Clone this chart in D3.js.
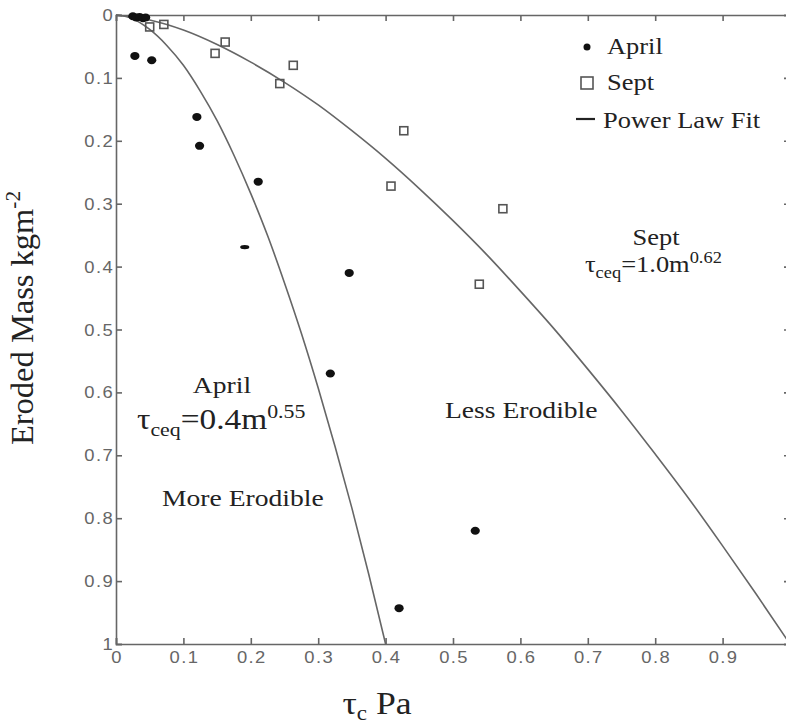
<!DOCTYPE html>
<html><head><meta charset="utf-8">
<script src="https://cdn.jsdelivr.net/npm/d3@7"></script>
<style>
html,body{margin:0;padding:0;background:#fff;}
svg{display:block;}
</style></head>
<body>
<svg id="chart" width="786" height="728"></svg>
<script>
// ---- data ----
const aprilTau  = [0.025,0.030,0.035,0.040,0.044,0.028,0.053,0.120,0.124,0.211,0.191,0.346,0.318,0.533,0.420];
const aprilMass = [0.002,0.004,0.003,0.005,0.004,0.065,0.072,0.162,0.208,0.265,0.369,0.410,0.570,0.820,0.943];
const septTau   = [0.050,0.071,0.147,0.162,0.263,0.243,0.427,0.408,0.574,0.539];
const septMass  = [0.019,0.015,0.061,0.043,0.080,0.109,0.184,0.272,0.308,0.428];
const aprilFitTau  = [0,0.02,0.05,0.075,0.1,0.125,0.15,0.175,0.2,0.225,0.25,0.275,0.3,0.325,0.35,0.375,0.4];
const aprilFitMass = [0,0.004,0.023,0.048,0.080,0.121,0.168,0.223,0.284,0.351,0.426,0.506,0.593,0.686,0.784,0.889,1.0];
const septFitTau  = [0,0.05,0.1,0.15,0.2,0.25,0.3,0.35,0.4,0.45,0.5,0.55,0.6,0.65,0.7,0.75,0.8,0.85,0.9,0.95,1.0];
const septFitMass = [0,0.008,0.024,0.047,0.075,0.107,0.143,0.184,0.228,0.276,0.327,0.381,0.439,0.499,0.563,0.629,0.698,0.769,0.844,0.921,1.0];
const xTickValues = [0,0.1,0.2,0.3,0.4,0.5,0.6,0.7,0.8,0.9];
const xTickLabels = ["0","0.1","0.2","0.3","0.4","0.5","0.6","0.7","0.8","0.9"];
const yTickValues = [0,0.1,0.2,0.3,0.4,0.5,0.6,0.7,0.8,0.9,1];
const yTickLabels = ["0","0.1","0.2","0.3","0.4","0.5","0.6","0.7","0.8","0.9","1"];
const legendLabels = ["April","Sept","Power Law Fit"];

// ---- layout ----
const L = 116, R = 790, T = 15, B = 644;
const SX = 1.15; // horizontal stretch of the original picture
const svg = d3.select("#chart");
const x = d3.scaleLinear().domain([0,1]).range([L,R]);
const y = d3.scaleLinear().domain([0,1]).range([T,B]);
const axisCol = "#666";
const serif = "'Liberation Serif','Times New Roman',serif";
const sans = "'Liberation Sans',Arial,sans-serif";

svg.append("defs").append("clipPath").attr("id","plotclip")
  .append("rect").attr("x",L).attr("y",T-2).attr("width",R-L).attr("height",B-T+2);

// axes with inward ticks
const tickLen = 6;
const gTop = svg.append("g").attr("transform",`translate(0,${T})`)
  .call(d3.axisBottom(x).tickValues(xTickValues).tickSize(tickLen).tickFormat(""));
const gBot = svg.append("g").attr("transform",`translate(0,${B})`)
  .call(d3.axisTop(x).tickValues(xTickValues).tickSize(tickLen).tickFormat(""));
const gLeft = svg.append("g").attr("transform",`translate(${L},0)`)
  .call(d3.axisRight(y).tickValues(yTickValues).tickSize(tickLen).tickFormat(""));
const gRight = svg.append("g").attr("transform",`translate(${R},0)`)
  .call(d3.axisLeft(y).tickValues(yTickValues).tickSize(tickLen).tickFormat(""));
[gTop,gBot,gLeft,gRight].forEach(g=>{
  g.select(".domain").attr("stroke",axisCol).attr("stroke-width",1.6);
  g.selectAll(".tick line").attr("stroke",axisCol).attr("stroke-width",1.6);
});

function stretchedText(parent, px, py, str, anchor, font, size, fill, extra){
  const g = parent.append("g").attr("transform",`translate(${px},${py}) scale(${SX},1)`);
  const t = g.append("text").attr("x",0).attr("y",0).attr("text-anchor",anchor)
    .attr("font-family",font).attr("font-size",size).attr("fill",fill);
  if (extra) extra(t); else t.text(str);
  return t;
}
// tick labels
xTickValues.forEach((v,i)=>{
  stretchedText(svg, x(v)+1, 663, xTickLabels[i], "middle", sans, 16, "#666",
    t=>t.attr("letter-spacing",1.2).text(xTickLabels[i]));
});
yTickValues.forEach((v,i)=>{
  stretchedText(svg, L-2, y(v)+6, yTickLabels[i], "end", sans, 16, "#666",
    t=>t.attr("letter-spacing",1.2).text(yTickLabels[i]));
});

// fit curves
const plot = svg.append("g").attr("clip-path","url(#plotclip)");
const line = d3.line().x(d=>x(d[0])).y(d=>y(d[1])).curve(d3.curveMonotoneX);
plot.append("path").datum(aprilFitTau.map((t,i)=>[t,aprilFitMass[i]]))
  .attr("d",line).attr("fill","none").attr("stroke","#666").attr("stroke-width",1.6);
plot.append("path").datum(septFitTau.map((t,i)=>[t,septFitMass[i]]))
  .attr("d",line).attr("fill","none").attr("stroke","#666").attr("stroke-width",1.6);

// Sept hollow squares
const sq = 8;
svg.append("g").selectAll("rect").data(septTau.map((t,i)=>[t,septMass[i]])).join("rect")
  .attr("x",d=>x(d[0])-sq/2).attr("y",d=>y(d[1])-sq/2).attr("width",sq).attr("height",sq)
  .attr("fill","none").attr("stroke","#555").attr("stroke-width",1.6);

// April filled dots
svg.append("g").selectAll("ellipse").data(aprilTau.map((t,i)=>[t,aprilMass[i]])).join("ellipse")
  .attr("cx",d=>x(d[0])).attr("cy",d=>y(d[1]))
  .attr("rx",4.6).attr("ry",(d,i)=> i===10 ? 2.2 : 4)
  .attr("fill","#111");

// legend
const legX = 587;
svg.append("circle").attr("cx",legX).attr("cy",47).attr("r",3.5).attr("fill","#111");
svg.append("rect").attr("x",legX-6).attr("y",77).attr("width",12).attr("height",12)
  .attr("fill","none").attr("stroke","#555").attr("stroke-width",1.6);
svg.append("line").attr("x1",576).attr("x2",595).attr("y1",119).attr("y2",119)
  .attr("stroke","#222").attr("stroke-width",2.2);
stretchedText(svg, 607, 54, legendLabels[0], "start", serif, 23, "#222");
stretchedText(svg, 607, 90, legendLabels[1], "start", serif, 23, "#222");
stretchedText(svg, 603, 128, legendLabels[2], "start", serif, 23, "#222");

// annotations
stretchedText(svg, 656, 245, "Sept", "middle", serif, 23, "#222");
stretchedText(svg, 585, 272, "", "start", serif, 23, "#222", t=>{
  t.append("tspan").text("τ");
  t.append("tspan").attr("font-size",16).attr("dy",6).text("ceq");
  t.append("tspan").attr("dy",-6).text("=1.0m");
  t.append("tspan").attr("font-size",16).attr("dy",-9).text("0.62");
});
stretchedText(svg, 222, 393, "April", "middle", serif, 24, "#222");
stretchedText(svg, 137, 429, "", "start", serif, 29, "#222", t=>{
  t.append("tspan").text("τ");
  t.append("tspan").attr("font-size",19).attr("dy",7).text("ceq");
  t.append("tspan").attr("dy",-7).text("=0.4m");
  t.append("tspan").attr("font-size",19).attr("dy",-11).text("0.55");
});
stretchedText(svg, 162, 506, "More Erodible", "start", serif, 24, "#222");
stretchedText(svg, 445, 418, "Less Erodible", "start", serif, 24, "#222");

// axis titles
svg.append("text").attr("transform","translate(33,318) rotate(-90) scale(1.25,1.2)")
  .attr("text-anchor","middle").attr("font-family",serif).attr("font-size",26).attr("fill","#222")
  .call(t=>{
    t.append("tspan").text("Eroded Mass kgm");
    t.append("tspan").attr("font-size",17).attr("dy",-11).text("-2");
  });
stretchedText(svg, 377, 714, "", "middle", serif, 31, "#222", t=>{
  t.append("tspan").text("τ");
  t.append("tspan").attr("font-size",20).attr("dy",6).text("c");
  t.append("tspan").attr("dy",-6).text(" Pa");
});
</script>
</body></html>
